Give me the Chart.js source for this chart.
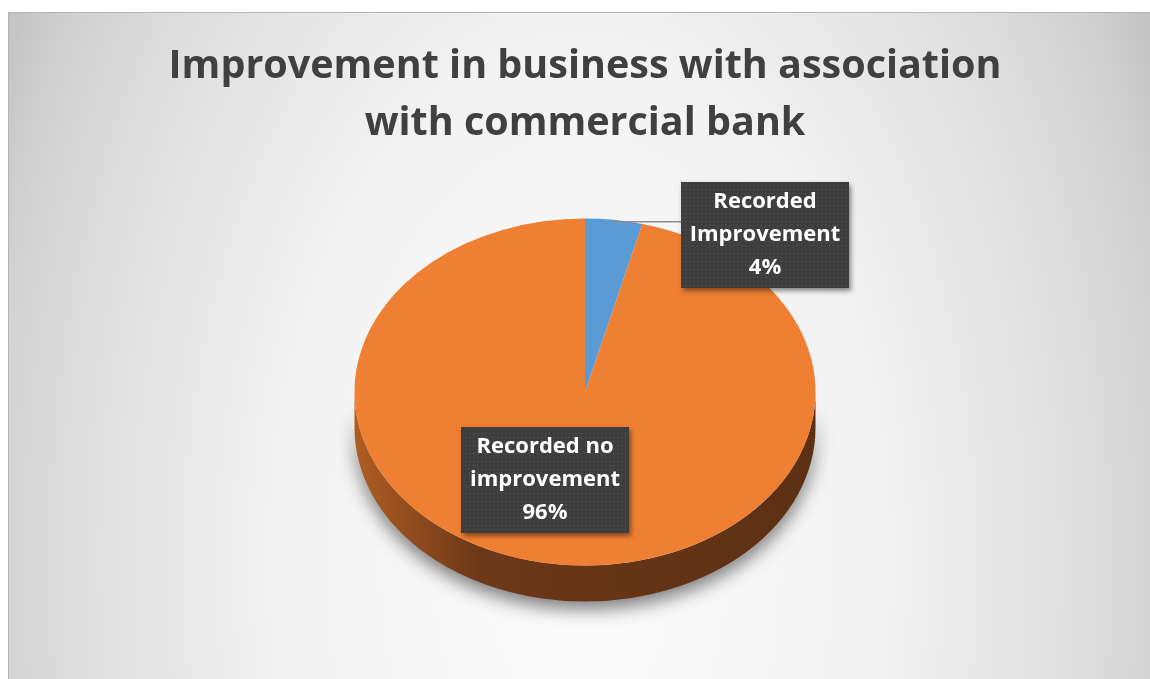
<!DOCTYPE html>
<html>
<head>
<meta charset="utf-8">
<title>Improvement in business</title>
<script src="https://cdn.jsdelivr.net/npm/chart.js@4.4.1/dist/chart.umd.min.js"></script>
<style>
  html, body { margin: 0; padding: 0; background: #fff; }
  #wrap { width: 1150px; height: 679px; position: relative; }
</style>
</head>
<body>
<div id="wrap"><canvas id="pieChart"></canvas></div>
<script>
// data
const categories = ['Recorded Improvement', 'Recorded no improvement'];
const shares = [4, 96];
const titleLines = ['Improvement in business with association', 'with commercial bank'];

// look
const sliceColors = ['#5b9bd5', '#ef7f32'];
const TILT = 0.753;      // vertical squash of the pie face
const DEPTH = 36;        // thickness of the pie wall in px
const labelOffsets = [[180, -157], [-40, 88]];   // box centre relative to pie centre
const BOX_W = 168, BOX_H = 106;

// dotted fill used by the data label boxes
function dotPattern(ctx) {
    const c = document.createElement('canvas');
    c.width = 4; c.height = 4;
    const p = c.getContext('2d');
    p.fillStyle = '#3e3e3e';
    p.fillRect(0, 0, 4, 4);
    p.fillStyle = '#555555';
    p.fillRect(1, 1, 1, 1);
    return ctx.createPattern(c, 'repeat');
}

const backdrop = {
    id: 'backdrop',
    beforeDraw(chart) {
        const ctx = chart.ctx;
        const w = chart.width, h = chart.height;
        ctx.save();
        ctx.fillStyle = '#ffffff';
        ctx.fillRect(0, 0, w, h);
        const cx = 580, cy = 560, rx = 650, ry = 1100;
        ctx.save();
        ctx.beginPath();
        ctx.rect(8, 12, w, h);
        ctx.clip();
        ctx.translate(cx, cy);
        ctx.scale(1, ry / rx);
        const g = ctx.createRadialGradient(0, 0, 0, 0, 0, rx);
        g.addColorStop(0, '#fcfcfc');
        g.addColorStop(0.45, '#f3f3f3');
        g.addColorStop(0.75, '#e0e0e0');
        g.addColorStop(0.9, '#d3d3d3');
        g.addColorStop(1, '#c4c4c4');
        ctx.fillStyle = g;
        ctx.fillRect(-cx, -cy / (ry / rx), w + 10, (h + 10) * rx / ry);
        ctx.restore();
        ctx.strokeStyle = '#b4b4b4';
        ctx.lineWidth = 1;
        ctx.beginPath();
        ctx.moveTo(8.5, h);
        ctx.lineTo(8.5, 12.5);
        ctx.lineTo(w, 12.5);
        ctx.stroke();
        ctx.restore();
    }
};

// squashes the pie into a tilted disc and draws its wall underneath
const pie3d = {
    id: 'pie3d',
    beforeDatasetsDraw(chart) {
        const ctx = chart.ctx;
        const arcs = chart.getDatasetMeta(0).data;
        const x = arcs[0].x, y = arcs[0].y, r = arcs[0].outerRadius;
        ctx.save();
        ctx.translate(x, y);
        ctx.scale(1, TILT);
        ctx.translate(-x, -y);

        const d = DEPTH / TILT;
        const side = ctx.createLinearGradient(x - r, 0, x + r, 0);
        side.addColorStop(0, '#b05d22');
        side.addColorStop(0.27, '#6c3818');
        side.addColorStop(1, '#5c3013');

        ctx.save();
        ctx.shadowColor = 'rgba(0,0,0,0.5)';
        ctx.shadowBlur = 18;
        ctx.shadowOffsetY = 8;
        arcs.forEach(arc => {
            const a = Math.max(arc.startAngle, 0);
            const b = Math.min(arc.endAngle, Math.PI);
            if (b <= a) return;
            ctx.beginPath();
            ctx.arc(x, y + d, r, a, b);
            ctx.arc(x, y, r, b, a, true);
            ctx.closePath();
            ctx.fillStyle = side;
            ctx.fill();
        });
        ctx.restore();
    },
    afterDatasetsDraw(chart) {
        chart.ctx.restore();
    }
};

const boxLabels = {
    id: 'boxLabels',
    afterDraw(chart) {
        const ctx = chart.ctx;
        const arcs = chart.getDatasetMeta(0).data;
        const pattern = dotPattern(ctx);
        arcs.forEach((arc, i) => {
            const bx = arc.x + labelOffsets[i][0];
            const by = arc.y + labelOffsets[i][1];
            const left = bx - BOX_W / 2, top = by - BOX_H / 2;

            // leader line for labels that sit outside the pie
            const mid = (arc.startAngle + arc.endAngle) / 2;
            const px = arc.x + arc.outerRadius * Math.cos(mid);
            const py = arc.y + arc.outerRadius * Math.sin(mid) * TILT;
            if (left > px) {
                ctx.save();
                ctx.strokeStyle = '#8c8c8c';
                ctx.lineWidth = 1.5;
                ctx.beginPath();
                ctx.moveTo(px - 2, py + 2);
                ctx.lineTo(left, py + 2);
                ctx.stroke();
                ctx.restore();
            }

            ctx.save();
            ctx.shadowColor = 'rgba(0,0,0,0.45)';
            ctx.shadowBlur = 5;
            ctx.shadowOffsetX = 2;
            ctx.shadowOffsetY = 3;
            ctx.fillStyle = pattern;
            ctx.fillRect(left, top, BOX_W, BOX_H);
            ctx.restore();

            const name = categories[i];
            const cut = name.lastIndexOf(' ');
            const lines = [name.slice(0, cut), name.slice(cut + 1), shares[i] + '%'];
            ctx.save();
            ctx.fillStyle = '#ffffff';
            ctx.font = 'bold 22px "Open Sans"';
            ctx.textAlign = 'center';
            ctx.textBaseline = 'middle';
            lines.forEach((t, k) => ctx.fillText(t, bx, by + (k - 1) * 33));
            ctx.restore();
        });
    }
};

const ctx = document.getElementById('pieChart').getContext('2d');
new Chart(ctx, {
    type: 'pie',
    data: {
        labels: categories,
        datasets: [{
            data: shares,
            backgroundColor: sliceColors,
            borderWidth: 0
        }]
    },
    options: {
        responsive: true,
        maintainAspectRatio: false,
        animation: false,
        events: [],
        radius: 230.5,
        layout: { padding: { top: 38.5, left: 20, bottom: 57.5 } },
        plugins: {
            legend: { display: false },
            tooltip: { enabled: false },
            title: {
                display: true,
                text: titleLines,
                color: '#404040',
                font: { family: 'Open Sans', size: 39.5, weight: 'bold', lineHeight: 1.443 },
                padding: { top: 0, bottom: 10 }
            }
        }
    },
    plugins: [backdrop, pie3d, boxLabels]
});
</script>
</body>
</html>
